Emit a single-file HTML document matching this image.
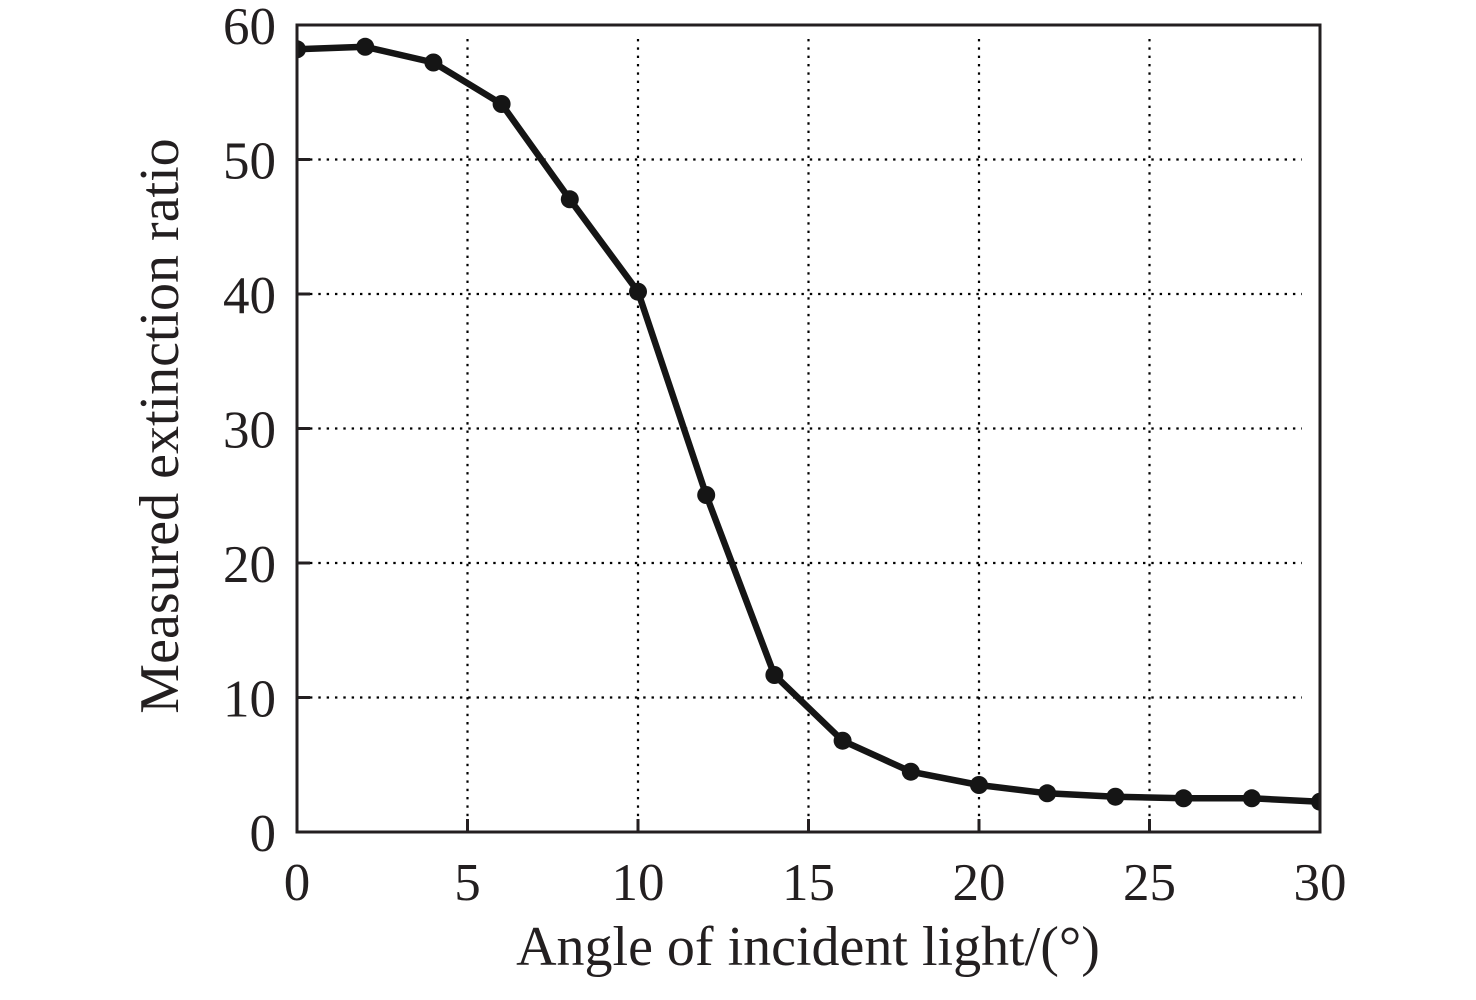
<!DOCTYPE html>
<html>
<head>
<meta charset="utf-8">
<style>
html,body{margin:0;padding:0;background:#fff;}
svg{display:block;}
text{font-family:"Liberation Serif","Times New Roman",serif;fill:#231f20;}
</style>
</head>
<body>
<svg width="1476" height="1000" viewBox="0 0 1476 1000" xmlns="http://www.w3.org/2000/svg">
<defs>
<clipPath id="pa"><rect x="297" y="25" width="1023" height="807"/></clipPath>
</defs>
<rect width="1476" height="1000" fill="#fff"/>
<!-- horizontal grid -->
<g stroke="#000" stroke-width="2.2" stroke-dasharray="2.4 5.93" fill="none">
<line x1="310" y1="159.5" x2="1302" y2="159.5"/>
<line x1="310" y1="294" x2="1302" y2="294"/>
<line x1="310" y1="428.5" x2="1302" y2="428.5"/>
<line x1="310" y1="563" x2="1302" y2="563"/>
<line x1="310" y1="697.5" x2="1302" y2="697.5"/>
</g>
<!-- vertical grid -->
<g stroke="#000" stroke-width="2.2" stroke-dasharray="2.4 5.93" fill="none">
<line x1="467.5" y1="39" x2="467.5" y2="819"/>
<line x1="638" y1="39" x2="638" y2="819"/>
<line x1="808.5" y1="39" x2="808.5" y2="819"/>
<line x1="979" y1="39" x2="979" y2="819"/>
<line x1="1149.5" y1="39" x2="1149.5" y2="819"/>
</g>
<!-- ticks -->
<g stroke="#231f20" stroke-width="3">
<line x1="467.5" y1="819" x2="467.5" y2="832"/>
<line x1="638" y1="819" x2="638" y2="832"/>
<line x1="808.5" y1="819" x2="808.5" y2="832"/>
<line x1="979" y1="819" x2="979" y2="832"/>
<line x1="1149.5" y1="819" x2="1149.5" y2="832"/>
<line x1="297" y1="159.5" x2="310" y2="159.5"/>
<line x1="297" y1="294" x2="310" y2="294"/>
<line x1="297" y1="428.5" x2="310" y2="428.5"/>
<line x1="297" y1="563" x2="310" y2="563"/>
<line x1="297" y1="697.5" x2="310" y2="697.5"/>
</g>
<!-- data -->
<g clip-path="url(#pa)">
<polyline fill="none" stroke="#151515" stroke-width="6.5" stroke-linejoin="round" points="297,49.3 365.2,46.8 433.4,62.5 501.6,104 569.8,199.3 638,291.7 706.2,495 774.4,675 842.6,740.7 910.8,771.7 979,785 1047.2,793.3 1115.4,796.7 1183.6,798.3 1251.8,798.3 1320,801.7"/>
<g fill="#151515">
<circle cx="297" cy="49.3" r="9"/>
<circle cx="365.2" cy="46.8" r="9"/>
<circle cx="433.4" cy="62.5" r="9"/>
<circle cx="501.6" cy="104" r="9"/>
<circle cx="569.8" cy="199.3" r="9"/>
<circle cx="638" cy="291.7" r="9"/>
<circle cx="706.2" cy="495" r="9"/>
<circle cx="774.4" cy="675" r="9"/>
<circle cx="842.6" cy="740.7" r="9"/>
<circle cx="910.8" cy="771.7" r="9"/>
<circle cx="979" cy="785" r="9"/>
<circle cx="1047.2" cy="793.3" r="9"/>
<circle cx="1115.4" cy="796.7" r="9"/>
<circle cx="1183.6" cy="798.3" r="9"/>
<circle cx="1251.8" cy="798.3" r="9"/>
<circle cx="1320" cy="801.7" r="9"/>
</g>
</g>
<!-- frame -->
<rect x="297" y="25" width="1023" height="807" fill="none" stroke="#231f20" stroke-width="3"/>
<!-- y tick labels -->
<g font-size="53" text-anchor="end">
<text x="276" y="44">60</text>
<text x="276" y="178.5">50</text>
<text x="276" y="313">40</text>
<text x="276" y="447.5">30</text>
<text x="276" y="582">20</text>
<text x="276" y="716.5">10</text>
<text x="276" y="851">0</text>
</g>
<!-- x tick labels -->
<g font-size="53" text-anchor="middle">
<text x="297" y="900">0</text>
<text x="467.5" y="900">5</text>
<text x="638" y="900">10</text>
<text x="808.5" y="900">15</text>
<text x="979" y="900">20</text>
<text x="1149.5" y="900">25</text>
<text x="1320" y="900">30</text>
</g>
<!-- axis labels -->
<text x="808" y="965" font-size="56" text-anchor="middle">Angle of incident light/(°)</text>
<text transform="translate(178,426) rotate(-90)" font-size="56" text-anchor="middle">Measured extinction ratio</text>
</svg>
</body>
</html>
